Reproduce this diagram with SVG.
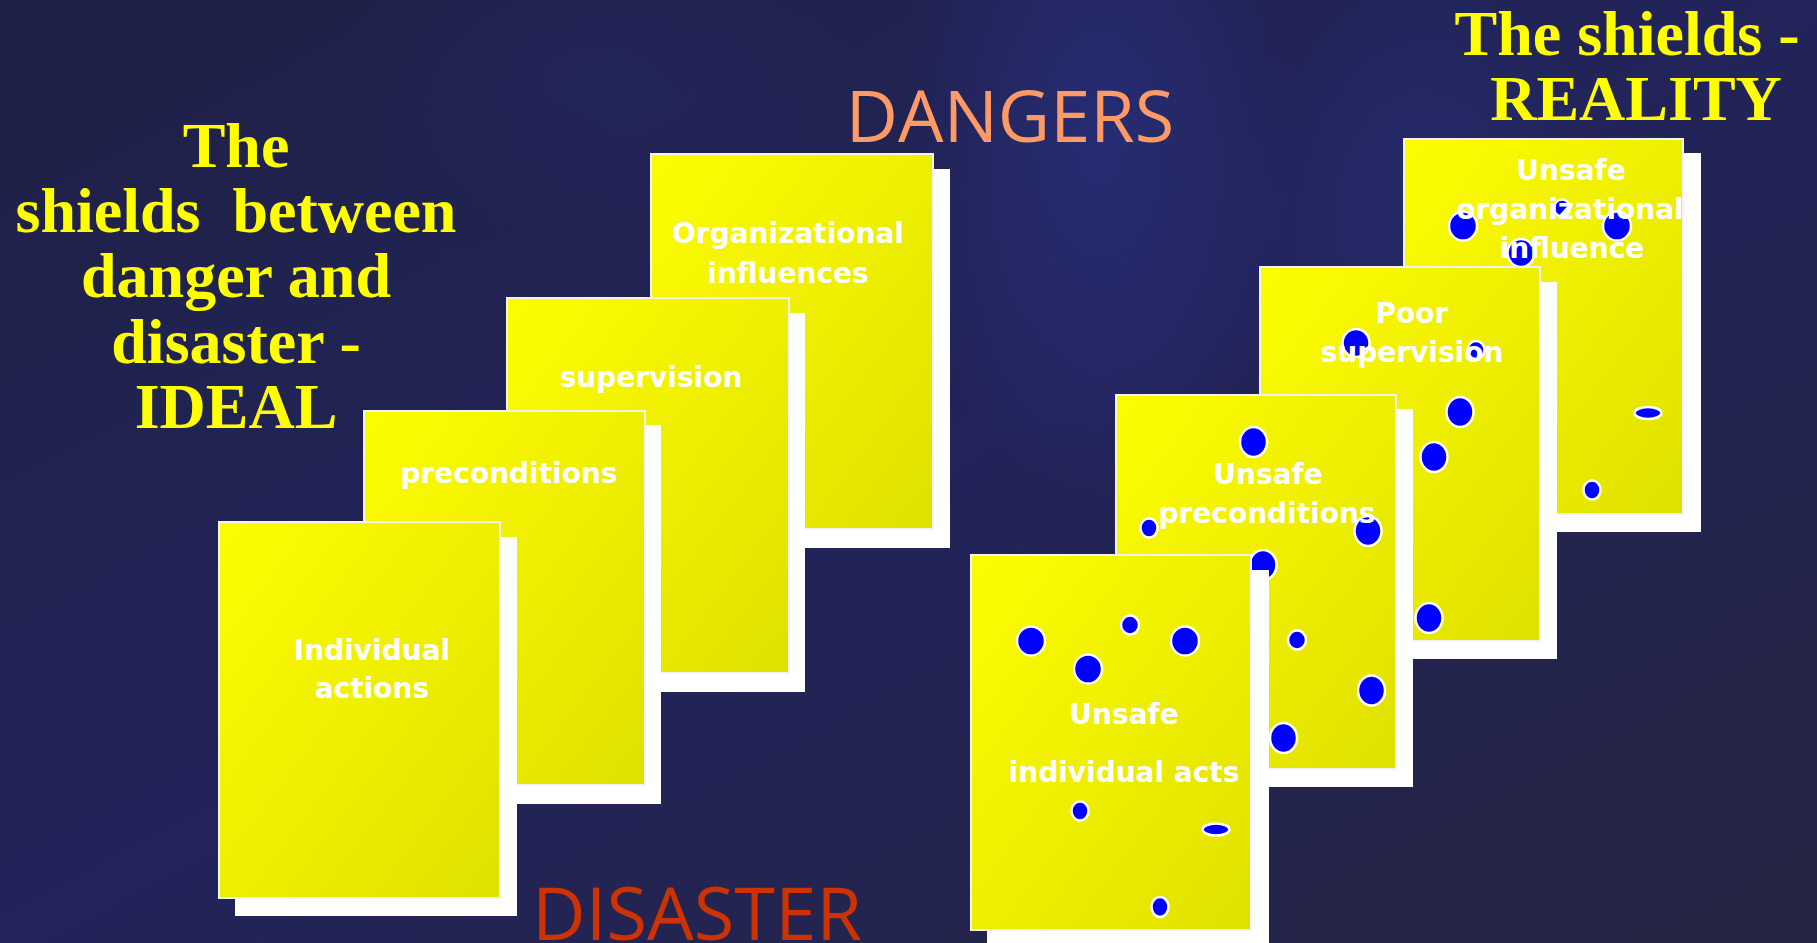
<svg xmlns="http://www.w3.org/2000/svg" width="1817" height="943" viewBox="0 0 1817 943">
  <defs>
    <linearGradient id="bg" x1="0" y1="0" x2="1" y2="1">
      <stop offset="0" stop-color="#1f2146"/>
      <stop offset="0.5" stop-color="#22245a"/>
      <stop offset="1" stop-color="#252441"/>
    </linearGradient>
    <radialGradient id="glow1" cx="0.5" cy="0.5" r="0.5">
      <stop offset="0" stop-color="#28307e" stop-opacity="0.75"/>
      <stop offset="1" stop-color="#28307e" stop-opacity="0"/>
    </radialGradient>
    <radialGradient id="glow2" cx="0.5" cy="0.5" r="0.5">
      <stop offset="0" stop-color="#272f76" stop-opacity="0.6"/>
      <stop offset="1" stop-color="#272f76" stop-opacity="0"/>
    </radialGradient>
    <linearGradient id="card" x1="0" y1="0" x2="1" y2="1">
      <stop offset="0" stop-color="#fdfd00"/>
      <stop offset="1" stop-color="#e0e000"/>
    </linearGradient>
  </defs>
  <style>
    .shadow { fill: #ffffff; }
    .face { fill: url(#card); stroke: #f2f2f2; stroke-width: 2; }
    .lbl { font-family: "DejaVu Sans", Verdana, sans-serif; font-weight: bold; font-size: 28px; fill: #ffffff; text-anchor: middle; }
    .title { font-family: "Liberation Serif", "Times New Roman", serif; font-weight: bold; font-size: 64px; fill: #ffff00; text-anchor: middle; }
    .big { font-family: "Open Sans", "Noto Sans", sans-serif; text-anchor: middle; }
    .dot { fill: #0000ff; stroke: #ffffff; stroke-width: 2.5; }
  </style>

  <!-- background -->
  <rect x="0" y="0" width="1817" height="943" fill="url(#bg)"/>
  <ellipse cx="1100" cy="140" rx="200" ry="360" fill="url(#glow1)"/>
  <ellipse cx="1420" cy="200" rx="180" ry="260" fill="url(#glow2)"/>
  <ellipse cx="600" cy="80" rx="260" ry="160" fill="url(#glow2)" opacity="0.4"/>

  <!-- titles -->
  <g id="title-ideal">
    <text class="title" x="236" y="167">The</text>
    <text class="title" x="236" y="232" style="white-space:pre">shields  between</text>
    <text class="title" x="236" y="297">danger and</text>
    <text class="title" x="236" y="363">disaster -</text>
    <text class="title" x="236" y="428">IDEAL</text>
  </g>
  <g id="title-reality">
    <text class="title" x="1627" y="55">The shields -</text>
    <text class="title" x="1636" y="120">REALITY</text>
  </g>
  <g id="dangers">
    <text class="big" x="1010" y="142" font-size="72" fill="#ff9966">DANGERS</text>
  </g>
  <g id="disaster">
    <text class="big" x="697" y="940" font-size="74" fill="#cc3300">DISASTER</text>
  </g>

  <!-- IDEAL shields -->
  <g id="ideal-organizational">
    <rect class="shadow" x="667" y="169" width="283" height="379"/>
    <rect class="face" x="651" y="154" width="282" height="375"/>
    <text class="lbl" x="788" y="243">Organizational</text>
    <text class="lbl" x="788" y="283">influences</text>
  </g>
  <g id="ideal-supervision">
    <rect class="shadow" x="523" y="313" width="282" height="379"/>
    <rect class="face" x="507" y="298" width="282" height="375"/>
    <text class="lbl" x="651" y="387">supervision</text>
  </g>
  <g id="ideal-preconditions">
    <rect class="shadow" x="380" y="425" width="281" height="379"/>
    <rect class="face" x="364" y="411" width="281" height="374"/>
    <text class="lbl" x="509" y="483">preconditions</text>
  </g>
  <g id="ideal-individual">
    <rect class="shadow" x="235" y="537" width="282" height="379"/>
    <rect class="face" x="219" y="522" width="281" height="376"/>
    <text class="lbl" x="372" y="660">Individual</text>
    <text class="lbl" x="372" y="698">actions</text>
  </g>

  <!-- REALITY shields -->
  <g id="reality-organizational">
    <rect class="shadow" x="1420" y="153" width="281" height="379"/>
    <rect class="face" x="1404" y="139" width="279" height="375"/>
    <ellipse class="dot" cx="1463" cy="226" rx="14" ry="14.5"/>
    <ellipse class="dot" cx="1617" cy="226" rx="14" ry="14.5"/>
    <ellipse class="dot" cx="1521" cy="253" rx="13.5" ry="14"/>
    <ellipse class="dot" cx="1562" cy="208" rx="8" ry="8.5"/>
    <ellipse class="dot" cx="1648" cy="413" rx="13.5" ry="6"/>
    <ellipse class="dot" cx="1592" cy="490" rx="8.5" ry="9.5"/>
    <text class="lbl" x="1571" y="180">Unsafe</text>
    <text class="lbl" x="1570" y="219">organizational</text>
    <text class="lbl" x="1572" y="258">influence</text>
  </g>
  <g id="reality-supervision">
    <rect class="shadow" x="1276" y="282" width="281" height="377"/>
    <rect class="face" x="1260" y="267" width="280" height="374"/>
    <ellipse class="dot" cx="1356" cy="343" rx="13.5" ry="14"/>
    <ellipse class="dot" cx="1476" cy="350" rx="8.5" ry="9"/>
    <ellipse class="dot" cx="1460" cy="412" rx="13.5" ry="15"/>
    <ellipse class="dot" cx="1434" cy="457" rx="13.5" ry="15"/>
    <ellipse class="dot" cx="1429" cy="618" rx="13.5" ry="15"/>
    <text class="lbl" x="1412" y="323">Poor</text>
    <text class="lbl" x="1412" y="362">supervision</text>
  </g>
  <g id="reality-preconditions">
    <rect class="shadow" x="1132" y="409" width="281" height="378"/>
    <rect class="face" x="1116" y="395" width="280" height="374"/>
    <ellipse class="dot" cx="1253.5" cy="442" rx="13.5" ry="15"/>
    <ellipse class="dot" cx="1149" cy="528" rx="8.5" ry="9.5"/>
    <ellipse class="dot" cx="1368" cy="531" rx="13.5" ry="15"/>
    <ellipse class="dot" cx="1263" cy="565" rx="13.5" ry="15"/>
    <ellipse class="dot" cx="1297" cy="640" rx="9" ry="9.5"/>
    <ellipse class="dot" cx="1371.5" cy="690.5" rx="13.5" ry="15"/>
    <ellipse class="dot" cx="1283.5" cy="738" rx="13.5" ry="15"/>
    <text class="lbl" x="1268" y="483.5">Unsafe</text>
    <text class="lbl" x="1267" y="522.5">preconditions</text>
  </g>
  <g id="reality-individual">
    <rect class="shadow" x="987" y="570" width="282" height="379"/>
    <rect class="face" x="971" y="555" width="280" height="375"/>
    <ellipse class="dot" cx="1031" cy="641" rx="14" ry="14.5"/>
    <ellipse class="dot" cx="1130" cy="625" rx="9" ry="9.5"/>
    <ellipse class="dot" cx="1185" cy="641" rx="14" ry="14.5"/>
    <ellipse class="dot" cx="1088" cy="669" rx="14" ry="14.5"/>
    <ellipse class="dot" cx="1080" cy="811" rx="8.5" ry="9.5"/>
    <ellipse class="dot" cx="1216" cy="829.5" rx="13.5" ry="6"/>
    <ellipse class="dot" cx="1160" cy="907" rx="8.5" ry="10"/>
    <text class="lbl" x="1124" y="723.5">Unsafe</text>
    <text class="lbl" x="1124" y="781.5">individual acts</text>
  </g>

  <g id="connectors"/>
</svg>
